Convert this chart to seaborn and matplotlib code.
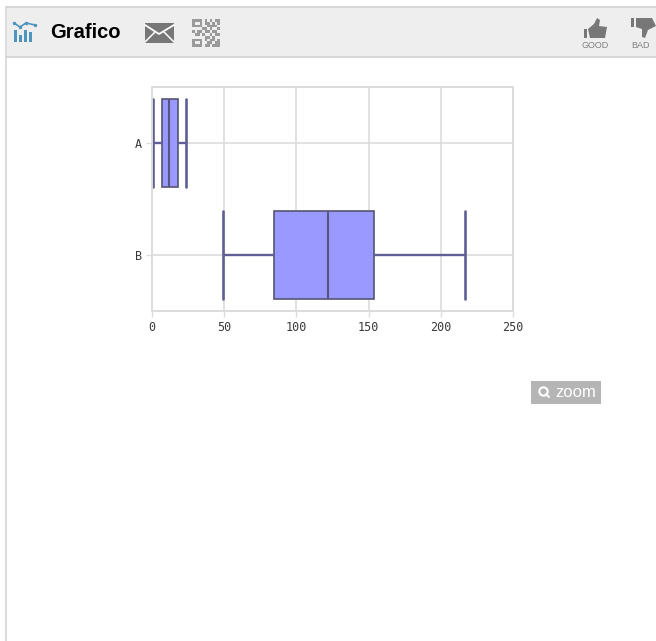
import pandas as pd
import matplotlib
matplotlib.use("Agg")
import matplotlib.pyplot as plt
from matplotlib.patches import Rectangle, Polygon
import seaborn as sns

W, H = 656, 641

# five-number summaries: low, q1, median, q3, high
categories = ["A", "B"]
summary_a = [0.5, 7, 12, 18, 23.5]
summary_b = [49, 84.5, 122, 154, 217]
x_ticks = [0, 50, 100, 150, 200, 250]

GRID = "#dcdcdc"
BAR = "#eeeeee"
ICON = "#777777"
QR = ["11110101011",
      "10010110101",
      "11110011110",
      "00001101001",
      "10110110110",
      "01101001011",
      "00000110100",
      "11110101101",
      "10010011011",
      "11110110111"]

df = pd.DataFrame({"group": [categories[0]] * 5 + [categories[1]] * 5,
                   "value": summary_a + summary_b})

sns.set_theme(style="white")
fig = plt.figure(figsize=(W / 100, H / 100), dpi=100, facecolor="white")

# page chrome, drawn in pixel coordinates
ui = fig.add_axes([0, 0, 1, 1], zorder=0)
ui.set_xlim(0, W); ui.set_ylim(H, 0); ui.axis("off")
ui.add_patch(Rectangle((7, 8), W, 48, fc=BAR, ec="none"))
ui.plot([6, W], [7, 7], color="#cfcfcf", lw=1.2)
ui.plot([6, W], [57, 57], color="#cfcfcf", lw=1.2)
ui.plot([6, 6], [7, H], color="#d5d5d5", lw=1.2)

# chart icon
for x0, top in [(14, 30), (19, 35), (24, 30), (29, 32)]:
    ui.add_patch(Rectangle((x0, top), 3, 42 - top, fc="#4f94bd", ec="none"))
ui.plot([14, 20, 26, 35], [23, 27, 23, 25], color="#4f94bd", lw=1.2, marker="o", ms=1.5)
ui.text(50, 32.5, "Grafico", fontsize=14.5, fontweight="bold", color="black",
        family="Liberation Sans", va="center", ha="left")

# mail icon
ui.add_patch(Rectangle((145, 23), 29, 20, fc=ICON, ec="none"))
ui.plot([145, 159, 174], [25, 34, 25], color="white", lw=1.3)
ui.plot([145, 155], [42, 32], color="white", lw=1.1)
ui.plot([174, 164], [42, 32], color="white", lw=1.1)

# qr icon
for r, row in enumerate(QR):
    for c, v in enumerate(row):
        if v == "1":
            ui.add_patch(Rectangle((192 + c * 2.5, 19 + r * 2.8), 2.5, 2.8, fc="#9a9a9a", ec="none"))

# thumbs
ui.add_patch(Rectangle((584, 29), 3, 9, fc=ICON, ec="none"))
ui.add_patch(Polygon([(588, 29), (594, 24), (597, 18), (600, 20), (599, 26), (607, 27),
                      (605, 38), (590, 38)], fc=ICON, ec="none"))
ui.text(595, 45, "GOOD", fontsize=6.5, color="#808080", family="Liberation Sans", ha="center", va="center")
ui.add_patch(Rectangle((631, 18), 3, 9, fc=ICON, ec="none"))
ui.add_patch(Polygon([(636, 18), (652, 18), (656, 26), (648, 30), (645, 38), (642, 37), (642, 29), (636, 27)],
                     fc=ICON, ec="none"))
ui.text(641, 45, "BAD", fontsize=6.5, color="#808080", family="Liberation Sans", ha="center", va="center")

# zoom button
ui.add_patch(Rectangle((531, 381), 70, 23, fc="#b5b5b5", ec="none"))
ui.plot([543], [391], marker="o", ms=6, mfc="none", mec="white", mew=1.5)
ui.plot([546, 549], [394, 397], color="white", lw=1.5)
ui.text(555, 392.5, "zoom", fontsize=12, color="white", family="Liberation Sans", ha="left", va="center")

# chart
ax = fig.add_axes([152 / W, 1 - 311 / H, (513 - 152) / W, (311 - 87) / H], zorder=1)
ax.patch.set_alpha(0)
sns.boxplot(data=df, x="value", y="group", order=categories, ax=ax, whis=(0, 100), width=0.79,
            color="#9999ff", saturation=1, linecolor="#5a5a8a", linewidth=1.3, capwidths=0.79,
            boxprops=dict(edgecolor="#55556f", linewidth=1.2),
            medianprops=dict(color="#55557f", linewidth=1.5),
            whiskerprops=dict(color="#5f5f96", linewidth=1.7),
            capprops=dict(color="#5f5f96", linewidth=1.9))
ax.set_xlim(0, 250)
ax.set_ylim(1.5, -0.5)
ax.set_xticks(x_ticks)
ax.set_xlabel(""); ax.set_ylabel("")
ax.set_axisbelow(True)
ax.grid(True, color=GRID, lw=1.2)
for s in ax.spines.values():
    s.set_visible(True); s.set_color(GRID); s.set_linewidth(1.4)
ax.tick_params(axis="both", length=4, width=1, color=GRID, labelcolor="#3a3a3a", pad=3, bottom=True, left=True)
for t in ax.get_xticklabels() + ax.get_yticklabels():
    t.set_fontsize(8.5)
    t.set_fontfamily("DejaVu Sans Mono")

fig.savefig("out.png", dpi=100)
